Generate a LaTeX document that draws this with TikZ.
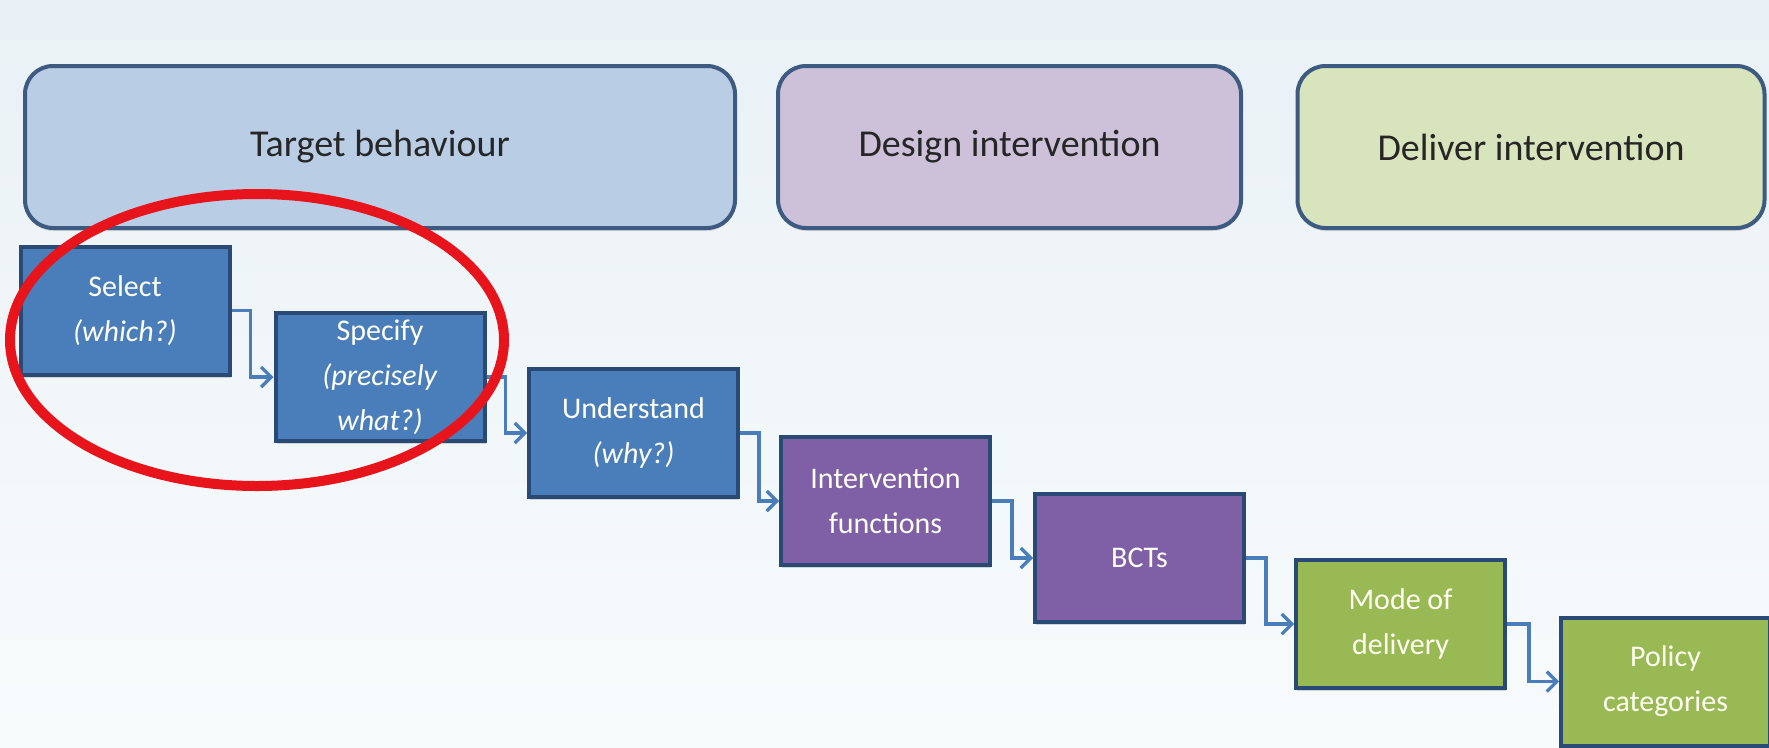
\documentclass[tikz,border=0pt]{standalone}
\usepackage{fontspec}
\setmainfont{Carlito}
\usetikzlibrary{arrows.meta,shadows}
\definecolor{bgtop}{HTML}{E9F1F6}
\definecolor{bgbot}{HTML}{F8FBFC}
\definecolor{hdrline}{HTML}{3D5A80}
\definecolor{tbfill}{HTML}{B9CDE5}
\definecolor{difill}{HTML}{CDC1DA}
\definecolor{dlfill}{HTML}{D8E4BC}
\definecolor{boxline}{HTML}{294A74}
\definecolor{bluefill}{HTML}{4A7EBB}
\definecolor{purplefill}{HTML}{7F5FA6}
\definecolor{greenfill}{HTML}{98B954}
\definecolor{connc}{HTML}{4A7EBB}
\definecolor{ringred}{HTML}{E8141B}
\tikzset{
  hdr/.style={draw=hdrline, line width=4pt, rounded corners=28pt,
    minimum height=162pt, font=\fontsize{38}{44}\selectfont, text=black!85,
    drop shadow={shadow xshift=0pt, shadow yshift=-3pt, opacity=0.25}},
  flow/.style={draw=boxline, line width=4pt, minimum width=209pt, minimum height=128pt,
    align=center, text=white!95!yellow, font=\fontsize{30}{45}\selectfont,
    drop shadow={shadow xshift=1pt, shadow yshift=-3pt, opacity=0.3}},
  bluebox/.style={flow, fill=bluefill},
  purplebox/.style={flow, fill=purplefill},
  greenbox/.style={flow, fill=greenfill},
  conn/.style={draw=connc, line width=3.4pt, -{Straight Barb[length=10pt,width=20pt,line width=3.2pt]}}
}
\begin{document}
\begin{tikzpicture}[x=1pt,y=-1pt]
\useasboundingbox (0,0) rectangle (1769,747);
\shade[top color=bgtop, bottom color=bgbot] (0,0) rectangle (1769,747);

% header boxes
\node[hdr, fill=tbfill, minimum width=710pt] (tb) at (380,147) {Target behaviour};
\node[hdr, fill=difill, minimum width=463pt] (di) at (1009.5,147) {Design intervention};
\node[hdr, fill=dlfill, minimum width=467pt] (dl) at (1531,147) {Deliver intervention};

% flow boxes
\node[bluebox] (sel) at (125,310.5) {Select\\\textit{(which?)}};
\node[bluebox] (spe) at (380,377) {Specify\\\textit{(precisely}\\\textit{what?)}};
\node[bluebox] (und) at (633.5,433) {Understand\\\textit{(why?)}};
\node[purplebox] (ifn) at (885.5,501) {Intervention\\functions};
\node[purplebox] (bct) at (1139.5,558) {BCTs};
\node[greenbox] (mod) at (1400.5,624) {Mode of\\delivery};
\node[greenbox] (pol) at (1665.5,681.5) {Policy\\categories};

% connectors
\draw[conn] (sel.east) -- ++(19,0) |- (spe.west);
\draw[conn] (spe.east) -- ++(19,0) |- (und.west);
\draw[conn] (und.east) -- ++(19,0) |- (ifn.west);
\draw[conn] (ifn.east) -- ++(20,0) |- (bct.west);
\draw[conn] (bct.east) -- ++(20,0) |- (mod.west);
\draw[conn] (mod.east) -- ++(22,0) |- (pol.west);

% red ring
\draw[ringred, line width=10pt] (257,340) ellipse [x radius=247, y radius=146];
\end{tikzpicture}
\end{document}
